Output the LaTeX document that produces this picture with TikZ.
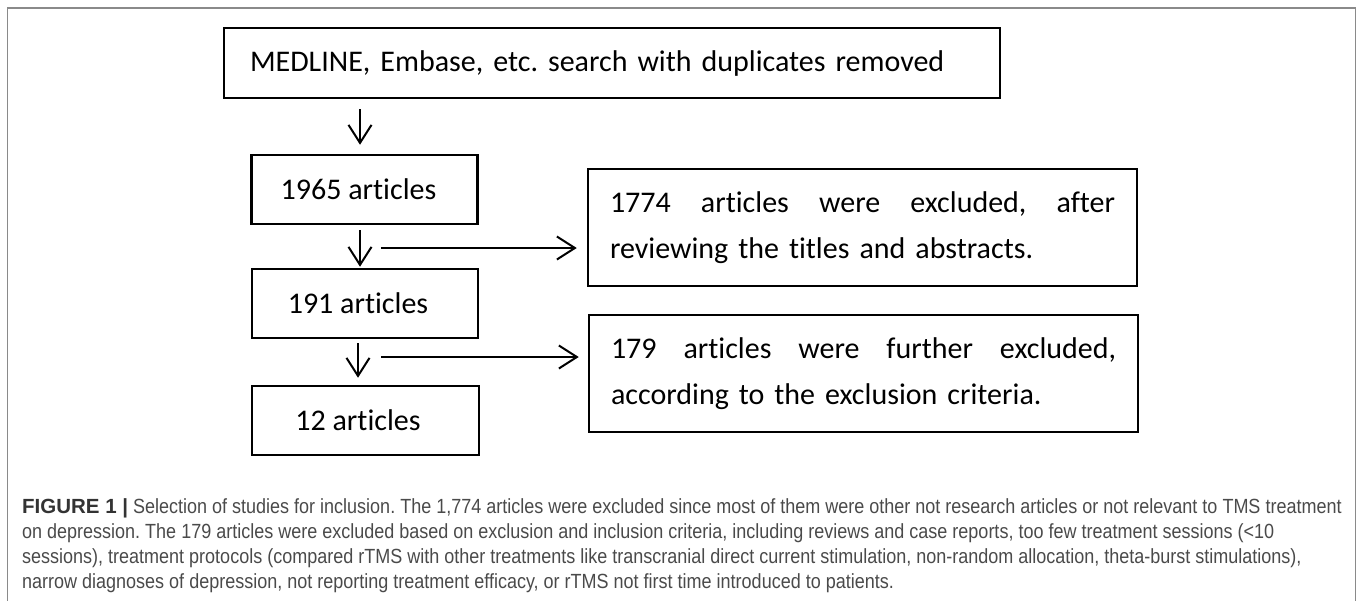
\documentclass[tikz,border=0pt]{standalone}
\usepackage{fontspec}
\setmainfont{Carlito}[Ligatures=NoCommon]
\newfontfamily\capfont[FakeStretch=0.878]{Liberation Sans}
\newfontfamily\capbfont[FakeStretch=1.0]{Liberation Sans}
\usetikzlibrary{arrows.meta}
\definecolor{framegray}{HTML}{8A8A8A}
\definecolor{capgray}{HTML}{4A4A4A}
\definecolor{capdark}{HTML}{333333}
\frenchspacing
\begin{document}
\begin{tikzpicture}[x=1pt,y=-1pt,
  box/.style={draw=black, line width=2.5pt, inner sep=0pt, font=\fontsize{30}{46}\selectfont},
  arr/.style={line width=2pt, -{Straight Barb[length=18pt,width=23pt,line width=2pt]}},
  capline/.style={anchor=base west, inner sep=0pt, text=capgray, font=\capfont\fontsize{20.5}{25}\selectfont}]
\useasboundingbox (0,0) rectangle (1357,600);
\draw[framegray, line width=1.5pt] (7.5,610) -- (7.5,8) -- (1355.5,8) -- (1355.5,610);

\node[box, minimum width=776pt, minimum height=70pt, text width=724pt, align=left] (top) at (612,63) {MEDLINE, Embase, etc. search with duplicates removed};
\node[box, minimum width=226pt, minimum height=69pt] (b1) at (364.5,189.5) {1965 articles\hspace*{12pt}};
\node[box, minimum width=226pt, minimum height=69pt] (b2) at (365,303.5) {191 articles\hspace*{14pt}};
\node[box, minimum width=227pt, minimum height=69pt] (b3) at (365.5,420.5) {12 articles\hspace*{15pt}};

\node[box, minimum width=549pt, minimum height=117pt, text width=505pt, align=left] (r1) at (862.5,227.5) {\makebox[505pt][l]{1774\hfill articles\hfill were\hfill excluded,\hfill after}\\reviewing the titles and abstracts.};
\node[box, minimum width=549pt, minimum height=117pt, text width=505pt, align=left] (r2) at (863.5,373.5) {\makebox[505pt][l]{179\hfill articles\hfill were\hfill further\hfill excluded,}\\according to the exclusion criteria.};

\draw[arr, shorten <=10pt, shorten >=9pt] ([xshift=-4.5pt]b1.north |- top.south) -- ([xshift=-4.5pt]b1.north);
\draw[arr, shorten <=5pt, shorten >=1pt] ([xshift=-4.5pt]b1.south) -- ([xshift=-5pt]b2.north);
\draw[arr, shorten <=4pt, shorten >=7pt] ([xshift=-7pt]b2.south) -- ([xshift=-7.5pt]b3.north);

\path (b1.south) -- (b2.north) coordinate[midway] (m1);
\path (b2.south) -- (b3.north) coordinate[midway] (m2);
\draw[arr, shorten >=10pt] ([xshift=16pt,yshift=-1.5pt]m1) -- ([yshift=-1.5pt]r1.west |- m1);
\draw[arr, shorten >=9pt] ([xshift=16pt,yshift=5pt]m2) -- ([yshift=5pt]r2.west |- m2);

\node[capline] (c1) at (22,513) {\textcolor{capdark}{\capbfont\bfseries FIGURE 1 |}\ Selection of studies for inclusion. The 1,774 articles were excluded since most of them were other not research articles or not relevant to TMS treatment};
\node[capline] (c2) at (22,538) {on depression. The 179 articles were excluded based on exclusion and inclusion criteria, including reviews and case reports, too few treatment sessions (<10};
\node[capline] (c3) at (22,563) {sessions), treatment protocols (compared rTMS with other treatments like transcranial direct current stimulation, non-random allocation, theta-burst stimulations),};
\node[capline] (c4) at (22,588) {narrow diagnoses of depression, not reporting treatment efficacy, or rTMS not first time introduced to patients.};
\end{tikzpicture}
\end{document}
